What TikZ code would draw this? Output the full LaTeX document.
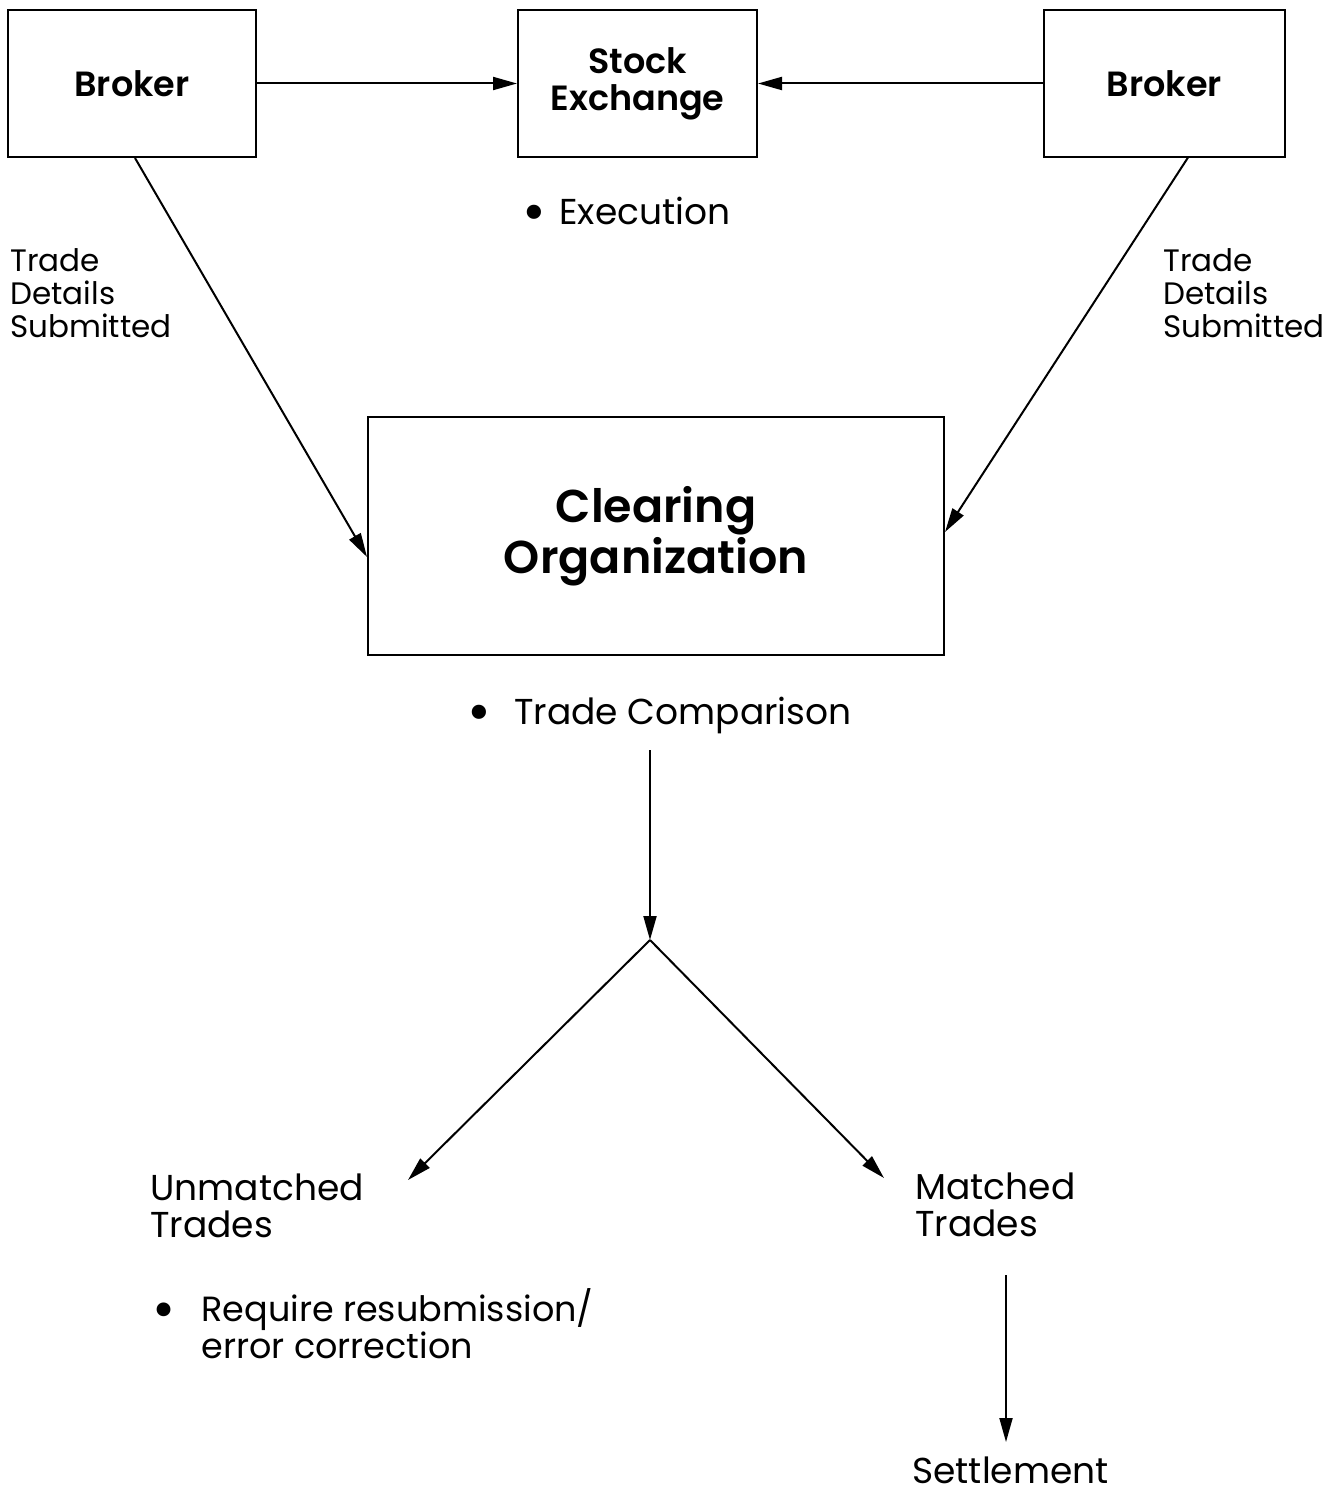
\documentclass[tikz,border=0pt]{standalone}
\usepackage{fontspec}
\setmainfont{Poppins}[BoldFont={Poppins SemiBold}]
\usetikzlibrary{arrows.meta}
% a larger list bullet, kept on the x-height middle
\newcommand\bulmark{\raisebox{-0.2em}{\scalebox{1.6}{•}}}
\begin{document}
\begin{tikzpicture}[x=0.5pt,y=-0.5pt,
  box/.style={draw, line width=1pt, inner sep=0pt, align=center},
  boxfont/.style={font=\bfseries\fontsize{17.5}{18.5}\selectfont},
  conn/.style={line width=1pt, -{Triangle[length=12pt,width=6.5pt]}},
  lbl/.style={inner sep=0pt, anchor=base west, align=left},
  small/.style={font=\fontsize{15.5}{16.5}\selectfont},
  body/.style={font=\fontsize{18}{18.5}\selectfont},
]
\useasboundingbox (0,0) rectangle (1332,1493);

% boxes
\node[box, boxfont, minimum width=124pt, minimum height=73.5pt] (lb) at (132,83.5) {Broker};
\node[box, boxfont, minimum width=119.5pt, minimum height=73.5pt] (se) at (637.5,83.5) {Stock\\Exchange};
\node[box, boxfont, minimum width=120.5pt, minimum height=73pt] (rb) at (1164.5,83.5) {Broker};
\node[box, font=\bfseries\fontsize{23}{24}\selectfont, minimum width=288pt, minimum height=119pt] (clr) at (656,536) {Clearing\\Organization};

% labels (multi-line nodes sit on their last baseline)
\node[lbl, body] (exec) at (522,224) {\makebox[18.5pt][l]{\bulmark}Execution};
\node[lbl, small] (tdl) at (10,337) {Trade\\Details\\Submitted};
\node[lbl, small] (tdr) at (1163,337) {Trade\\Details\\Submitted};
\node[lbl, body] (tc) at (467,724) {\makebox[23.5pt][l]{\bulmark}Trade Comparison};
\node[lbl, body] (um) at (150,1237) {Unmatched\\Trades};
\node[lbl, font=\fontsize{17.5}{18.5}\selectfont] (rq) at (152,1358) {\makebox[24.5pt][l]{\bulmark}Require resubmission/\\\hspace*{24.5pt}error correction};
\node[lbl, body] (mt) at (915,1236) {Matched\\Trades};
\node[lbl, body] (st) at (912,1483) {Settlement};

% flow points
\coordinate (cmpout) at (650,750);
\coordinate (split) at (650,940);
\coordinate (unend) at (408,1180);
\coordinate (mtend) at (884,1178);
\coordinate (mtout) at (1006,1275);
\coordinate (setin) at (1006,1442);

% connectors
\draw[conn] (lb.east) -- (se.west);
\draw[conn] (rb.west) -- (se.east);
\draw[conn] ([xshift=1.5pt]lb.south) -- ([yshift=-10.5pt]clr.west);
\draw[conn] ([xshift=11.75pt]rb.south) -- ([yshift=2pt]clr.east);
\draw[conn] (cmpout) -- (split);
\draw[conn] (split) -- (unend);
\draw[conn] (split) -- (mtend);
\draw[conn] (mtout) -- (setin);
\end{tikzpicture}
\end{document}
